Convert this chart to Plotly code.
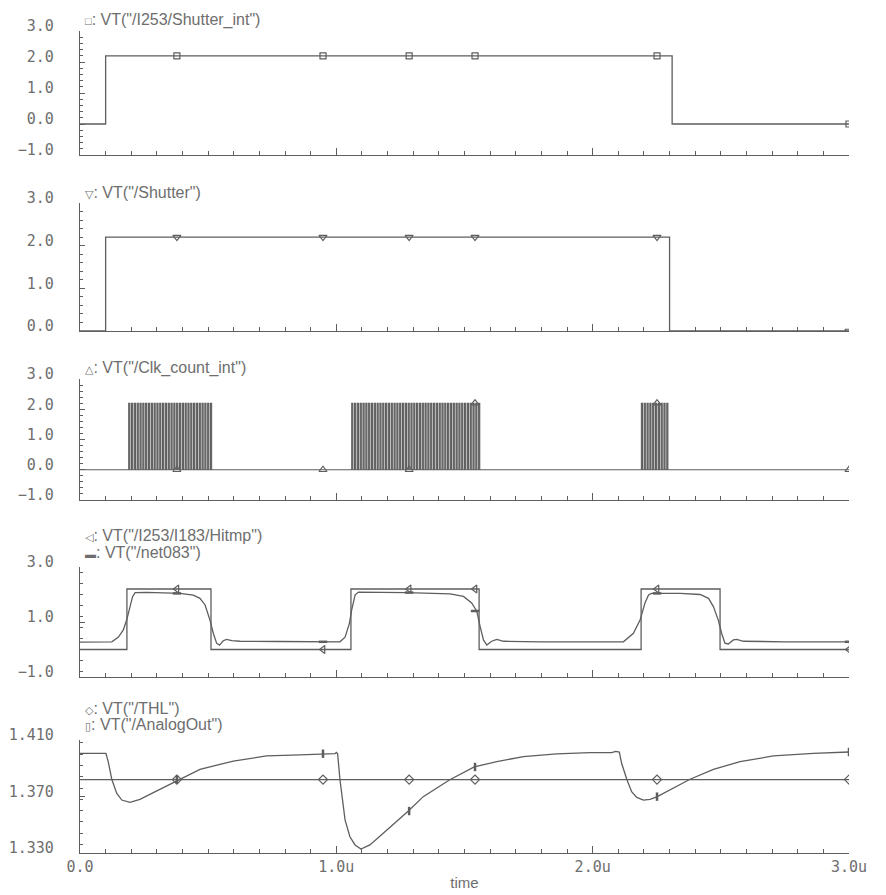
import plotly.graph_objects as go

# ---------------- data (time in microseconds, voltage in V) ----------------
shutter_int_t = [0.0, 0.10, 0.10, 2.31, 2.31, 3.0]
shutter_int_v = [0.0, 0.0, 2.2, 2.2, 0.0, 0.0]

shutter_t = [0.0, 0.10, 0.10, 2.30, 2.30, 3.0]
shutter_v = [0.0, 0.0, 2.2, 2.2, 0.0, 0.0]

# gated clock bursts (start, end) and clock timing
clk_burst_start = [0.19, 1.06, 2.19]
clk_burst_end = [0.52, 1.56, 2.30]
clk_period = 0.011
clk_high = 0.0045
clk_level = 2.2

hitmp_t = [0.0, 0.183, 0.183, 0.511, 0.511, 1.057, 1.057, 1.557, 1.557,
           2.189, 2.189, 2.497, 2.497, 3.0]
hitmp_v = [0.0, 0.0, 2.2, 2.2, 0.0, 0.0, 2.2, 2.2, 0.0, 0.0, 2.2, 2.2, 0.0, 0.0]

net083_t = [0.0, 0.124, 0.150, 0.169, 0.182, 0.195, 0.205, 0.215, 0.26, 0.39,
            0.442, 0.468, 0.488, 0.507, 0.520, 0.533, 0.544, 0.559, 0.572, 0.592,
            0.624, 0.78, 1.014, 1.034, 1.051, 1.060, 1.073, 1.086, 1.274, 1.444,
            1.496, 1.528, 1.548, 1.561, 1.574, 1.587, 1.606, 1.626, 1.652, 1.80,
            2.12, 2.159, 2.185, 2.204, 2.218, 2.23, 2.341, 2.419, 2.452, 2.471,
            2.49, 2.503, 2.516, 2.529, 2.549, 2.562, 2.588, 2.75, 3.0]
net083_v = [0.27, 0.28, 0.45, 0.71, 1.07, 1.56, 1.92, 2.07, 2.08, 2.04,
            1.98, 1.86, 1.62, 1.07, 0.59, 0.23, 0.16, 0.32, 0.37, 0.32,
            0.30, 0.29, 0.28, 0.45, 0.95, 1.44, 1.98, 2.09, 2.07, 2.02,
            1.93, 1.69, 1.39, 0.83, 0.35, 0.16, 0.30, 0.37, 0.30, 0.28,
            0.28, 0.59, 1.07, 1.69, 1.98, 2.04, 2.04, 2.00, 1.86, 1.56,
            1.07, 0.59, 0.23, 0.20, 0.35, 0.37, 0.30, 0.28, 0.28]

thl_t = [0.0, 3.0]
thl_v = [1.382, 1.382]

analog_t = [0.0, 0.101, 0.110, 0.124, 0.143, 0.163, 0.195, 0.234, 0.286, 0.384,
            0.468, 0.598, 0.728, 0.858, 0.995, 1.000, 1.005, 1.014, 1.021, 1.034,
            1.053, 1.073, 1.096, 1.131, 1.183, 1.236, 1.281, 1.339, 1.441, 1.538,
            1.626, 1.73, 1.86, 1.99, 2.074, 2.09, 2.104, 2.113, 2.133, 2.152,
            2.172, 2.198, 2.224, 2.252, 2.315, 2.38, 2.471, 2.575, 2.705, 2.861, 3.0]
analog_v = [1.4006, 1.4006, 1.3947, 1.3822, 1.3723, 1.3675, 1.3659, 1.3680, 1.3727, 1.3817,
            1.3892, 1.3951, 1.3987, 1.3994, 1.4003, 1.4012, 1.4003, 1.3822, 1.3723, 1.3534,
            1.3415, 1.3357, 1.3328, 1.3357, 1.3440, 1.3522, 1.3597, 1.3699, 1.3817, 1.3909,
            1.3947, 1.3983, 1.4002, 1.4011, 1.4011, 1.4020, 1.4015, 1.3935, 1.3822, 1.3734,
            1.3694, 1.3675, 1.3680, 1.3699, 1.3762, 1.3822, 1.3892, 1.3947, 1.3987, 1.4006, 1.4015]

# marker positions (Cadence places symbols at these times)
mark_t = [0.378, 0.948, 1.284, 1.541, 2.251, 3.0]
mark_shutter_int = [2.2, 2.2, 2.2, 2.2, 2.2, 0.0]
mark_shutter = [2.2, 2.2, 2.2, 2.2, 2.2, 0.0]
mark_clk = [0.0, 0.0, 0.0, 2.2, 2.2, 0.0]
mark_hitmp = [2.2, 0.0, 2.2, 2.2, 2.2, 0.0]
mark_net083 = [2.04, 0.28, 2.07, 1.40, 2.04, 0.28]
mark_thl = [1.382, 1.382, 1.382, 1.382, 1.382, 1.382]
mark_analog = [1.382, 1.4003, 1.3597, 1.3909, 1.3699, 1.4015]

x_tickvals = [0, 1, 2, 3]
x_ticktext = ["0.0", "1.0u", "2.0u", "3.0u"]

SM = "<span style='font-size:11px'>{}</span>"
legend_texts = [
    [SM.format("□") + ": VT(\"/I253/Shutter_int\")"],
    [SM.format("▽") + ": VT(\"/Shutter\")"],
    [SM.format("△") + ": VT(\"/Clk_count_int\")"],
    [SM.format("◁") + ": VT(\"/I253/I183/Hitmp\")", SM.format("▬") + ": VT(\"/net083\")"],
    [SM.format("◇") + ": VT(\"/THL\")", SM.format("▯") + ": VT(\"/AnalogOut\")"],
]

# ---------------- build clock waveform from burst windows ----------------
clk_t, clk_v = [0.0], [0.0]
for s, e in zip(clk_burst_start, clk_burst_end):
    t = s
    while t + clk_high <= e:
        clk_t += [t, t, t + clk_high, t + clk_high]
        clk_v += [0.0, clk_level, clk_level, 0.0]
        t += clk_period
clk_t.append(3.0)
clk_v.append(0.0)

# ---------------- figure ----------------
W, H = 886, 895
LINE = "#5e5e5e"
TXT = "#6e6e6e"
x0, x1 = 80, 849
panels_px = [(31, 155), (203, 331), (379, 500), (567, 677), (740, 853)]
y_ranges = [[-1, 3], [0, 3], [-1, 3], [-1, 3], [1.33, 1.41]]
y_dticks = [1, 1, 1, 2, 0.04]
y_minor = [0.2, 0.2, 0.2, 0.4, 0.008]
y_fmt = [".1f", ".1f", ".1f", ".1f", ".3f"]
legend_y_px = [[20], [192], [368], [535, 552], [708, 724]]

fig = go.Figure()

def ax_names(i):
    return ("x" if i == 1 else f"x{i}"), ("y" if i == 1 else f"y{i}")

def add_line(t, v, i, width=1.3):
    xa, ya = ax_names(i)
    fig.add_trace(go.Scatter(x=t, y=v, mode="lines", line=dict(color=LINE, width=width),
                             xaxis=xa, yaxis=ya, showlegend=False, hoverinfo="skip"))

def add_marks(t, v, i, symbol, size=7, lw=1.2):
    xa, ya = ax_names(i)
    fig.add_trace(go.Scatter(x=t, y=v, mode="markers",
                             marker=dict(symbol=symbol, size=size, color=LINE,
                                         line=dict(color=LINE, width=lw)),
                             xaxis=xa, yaxis=ya, showlegend=False, hoverinfo="skip"))

add_line(shutter_int_t, shutter_int_v, 1)
add_marks(mark_t, mark_shutter_int, 1, "square-open", 6)
add_line(shutter_t, shutter_v, 2)
add_marks(mark_t, mark_shutter, 2, "triangle-down-open", 7)
add_line(clk_t, clk_v, 3, 1.1)
add_marks(mark_t, mark_clk, 3, "triangle-up-open", 7)
add_line(hitmp_t, hitmp_v, 4)
add_line(net083_t, net083_v, 4)
add_marks(mark_t, mark_hitmp, 4, "triangle-left-open", 7)
add_marks(mark_t, mark_net083, 4, "line-ew-open", 6, 2.5)
add_line(thl_t, thl_v, 5)
add_line(analog_t, analog_v, 5)
add_marks(mark_t, mark_thl, 5, "diamond-open", 7)
add_marks(mark_t, mark_analog, 5, "line-ns-open", 6, 2.5)

layout = dict(
    width=W, height=H, margin=dict(l=0, r=0, t=0, b=0, autoexpand=False),
    paper_bgcolor="white", plot_bgcolor="white",
    font=dict(family="Liberation Sans, DejaVu Sans, sans-serif", color=TXT, size=15),
)
annotations = []
for k in range(5):
    i = k + 1
    top, bot = panels_px[k]
    xa = "xaxis" if i == 1 else f"xaxis{i}"
    ya = "yaxis" if i == 1 else f"yaxis{i}"
    layout[xa] = dict(
        domain=[x0 / W, x1 / W], range=[0, 3], anchor="y" if i == 1 else f"y{i}",
        automargin=False,
        showline=True, linecolor=LINE, linewidth=1.2, showgrid=False, zeroline=False,
        ticks="inside", ticklen=7, tickcolor=LINE, tickwidth=1,
        tickvals=x_tickvals, ticktext=x_ticktext, showticklabels=(i == 5),
        tickfont=dict(family="DejaVu Sans Mono", size=15, color=TXT),
        minor=dict(dtick=0.1, tick0=0, ticks="inside", ticklen=4, tickcolor=LINE, tickwidth=1),
    )
    if i == 5:
        layout[xa]["title"] = dict(text="time", standoff=2,
                                   font=dict(family="Liberation Sans", size=15, color=TXT))
    layout[ya] = dict(
        domain=[1 - bot / H, 1 - top / H], range=y_ranges[k],
        anchor="x" if i == 1 else f"x{i}", automargin=False,
        showline=True, linecolor=LINE, linewidth=1.2, showgrid=False, zeroline=False,
        ticks="inside", ticklen=5, tickcolor=LINE, tickwidth=1,
        dtick=y_dticks[k], tick0=y_ranges[k][0], tickformat=y_fmt[k],
        tickfont=dict(family="DejaVu Sans Mono", size=15, color=TXT),
        ticklabelstandoff=22, ticklabelshift=-5,
        minor=dict(dtick=y_minor[k], ticks="inside", ticklen=3, tickcolor=LINE, tickwidth=1),
    )
    for txt, ypx in zip(legend_texts[k], legend_y_px[k]):
        annotations.append(dict(text=txt, xref="paper", yref="paper", x=83 / W, y=1 - ypx / H,
                                xanchor="left", yanchor="middle", showarrow=False,
                                font=dict(size=16, color=TXT)))
layout["annotations"] = annotations
fig.update_layout(**layout)
fig.write_html("out.html", config={"displayModeBar": False},
               post_script="document.body.style.margin='0px';document.body.style.overflow='hidden';")
